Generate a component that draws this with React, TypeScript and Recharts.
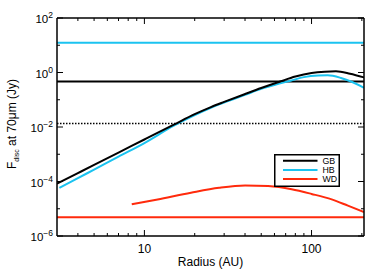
import React from 'react';
import { LineChart, Line, XAxis, YAxis, Legend } from 'recharts';

const FONT = '"Liberation Sans", Arial, Helvetica, sans-serif';

// Radius grid (AU) and fluxes (Jy)
const radiusGB = [3, 4, 5, 7, 10, 15, 20, 25, 30, 40, 50, 65, 80, 100, 120, 140, 170, 206];
const fluxGB = [8.3e-5, 2.03e-4, 4.06e-4, 1.15e-3, 3.48e-3, 0.0122, 0.0295, 0.0537, 0.0832, 0.162, 0.269, 0.468, 0.708, 0.955, 1.07, 1.11, 0.9, 0.66];

const radiusHB = [3.1, 4, 5, 7, 10, 15, 20, 25, 30, 40, 50, 65, 75, 90, 110, 125, 150, 175, 206];
const fluxHB = [5.8e-5, 1.33e-4, 2.73e-4, 8.15e-4, 2.58e-3, 0.0112, 0.0275, 0.051, 0.079, 0.151, 0.251, 0.398, 0.5, 0.676, 0.776, 0.79, 0.63, 0.447, 0.275];

const radiusWD = [8.4, 12, 19, 28, 40, 55, 76, 100, 132, 165, 206];
const fluxWD = [1.45e-5, 2.2e-5, 3.9e-5, 5.9e-5, 7.2e-5, 6.8e-5, 5.2e-5, 3.5e-5, 2.2e-5, 1.3e-5, 7.6e-6];

// Flat (radius-independent) levels
const radiusEdges = [3, 206];
const levelGB = 0.47;
const levelGBDotted = 0.0135;
const levelHB = 12.3;
const levelWD = 4.9e-6;

const xTicks = [4, 5, 6, 7, 8, 9, 10, 20, 30, 40, 50, 60, 70, 80, 90, 100, 200];
const yTicks = [1e-6, 1e-5, 1e-4, 1e-3, 1e-2, 1e-1, 1, 10, 100];

const COLORS = { GB: '#000000', HB: '#1BC3F0', WD: '#FF2A0C' };
const legendItems = [
  { name: 'GB', color: COLORS.GB },
  { name: 'HB', color: COLORS.HB },
  { name: 'WD', color: COLORS.WD },
];

const toSeries = (rs: number[], fs: number[]) => rs.map((r, i) => ({ r, f: fs[i] }));
const flat = (v: number) => radiusEdges.map((r) => ({ r, f: v }));

const isDecade = (v: number) => {
  const e = Math.log10(v);
  return Math.abs(e - Math.round(e)) < 1e-6;
};

const BottomTick = (props: any) => {
  const { x, y, payload } = props;
  const v = payload.value;
  const major = isDecade(v);
  return (
    <g>
      <line x1={x} x2={x} y1={y} y2={y - (major ? 6 : 3)} stroke="#000" strokeWidth={1} />
      {major && (
        <text x={x} y={y + 17} textAnchor="middle" fontSize={12} fontFamily={FONT} fill="#000">
          {String(Math.round(v))}
        </text>
      )}
    </g>
  );
};

const TopTick = (props: any) => {
  const { x, y, payload } = props;
  const major = isDecade(payload.value);
  return <line x1={x} x2={x} y1={y} y2={y + (major ? 6 : 3)} stroke="#000" strokeWidth={1} />;
};

const LeftTick = (props: any) => {
  const { x, y, payload } = props;
  const e = Math.round(Math.log10(payload.value));
  const major = e % 2 === 0;
  const exp = e < 0 ? '\u2212' + String(-e) : String(e);
  return (
    <g>
      <line x1={x} x2={x + (major ? 6 : 3)} y1={y} y2={y} stroke="#000" strokeWidth={1} />
      {major && (
        <text x={x - 4} y={y + 5} textAnchor="end" fontSize={11.5} fontFamily={FONT} fill="#000">
          10
          <tspan dy={-5} fontSize={8.5}>{exp}</tspan>
        </text>
      )}
    </g>
  );
};

const RightTick = (props: any) => {
  const { x, y, payload } = props;
  const e = Math.round(Math.log10(payload.value));
  const major = e % 2 === 0;
  return <line x1={x} x2={x - (major ? 6 : 3)} y1={y} y2={y} stroke="#000" strokeWidth={1} />;
};

const LegendBox = () => (
  <svg width={66} height={33} style={{ display: 'block' }}>
    <rect x={0.75} y={0.75} width={64.5} height={31.5} fill="#fff" stroke="#000" strokeWidth={1.5} />
    {legendItems.map((it, i) => (
      <g key={it.name}>
        <line x1={9} x2={43.5} y1={6.7 + i * 9.2} y2={6.7 + i * 9.2} stroke={it.color} strokeWidth={2} />
        <text x={48.5} y={9.9 + i * 9.2} fontSize={8.8} fontFamily={FONT} fill="#000">
          {it.name}
        </text>
      </g>
    ))}
  </svg>
);

export default function App() {
  return (
    <div style={{ position: 'absolute', left: 0, top: 0 }}>
      <LineChart width={382} height={273} margin={{ top: 17, right: 17, bottom: 36, left: 56 }}>
        <XAxis
          dataKey="r"
          type="number"
          scale="log"
          domain={[3, 206]}
          allowDataOverflow
          ticks={xTicks}
          interval={0}
          tickSize={0}
          tickMargin={0}
          tickLine={false}
          height={1}
          axisLine={{ stroke: '#000', strokeWidth: 1.5 }}
          tick={<BottomTick />}
          label={() => (
            <text x={210.5} y={266} textAnchor="middle" fontSize={12} fontFamily={FONT} fill="#000">
              Radius (AU)
            </text>
          )}
        />
        <XAxis
          xAxisId="top"
          orientation="top"
          dataKey="r"
          type="number"
          scale="log"
          domain={[3, 206]}
          allowDataOverflow
          ticks={xTicks}
          interval={0}
          tickSize={0}
          tickMargin={0}
          tickLine={false}
          height={1}
          axisLine={{ stroke: '#000', strokeWidth: 1.5 }}
          tick={<TopTick />}
        />
        <YAxis
          type="number"
          scale="log"
          domain={[1e-6, 100]}
          allowDataOverflow
          ticks={yTicks}
          interval={0}
          tickSize={0}
          tickMargin={0}
          tickLine={false}
          width={1}
          axisLine={{ stroke: '#000', strokeWidth: 1.5 }}
          tick={<LeftTick />}
          label={() => (
            <text
              x={16}
              y={124}
              transform="rotate(-90, 16, 124)"
              textAnchor="middle"
              fontSize={12}
              fontFamily={FONT}
              fill="#000"
            >
              F
              <tspan dy={2.5} fontSize={7}>disc</tspan>
              <tspan dy={-2.5}>{' at 70\u03BCm (Jy)'}</tspan>
            </text>
          )}
        />
        <YAxis
          yAxisId="right"
          orientation="right"
          type="number"
          scale="log"
          domain={[1e-6, 100]}
          allowDataOverflow
          ticks={yTicks}
          interval={0}
          tickSize={0}
          tickMargin={0}
          tickLine={false}
          width={1}
          axisLine={{ stroke: '#000', strokeWidth: 1.5 }}
          tick={<RightTick />}
        />
        <Line data={flat(levelHB)} dataKey="f" stroke={COLORS.HB} strokeWidth={2} dot={false} isAnimationActive={false} />
        <Line data={flat(levelGB)} dataKey="f" stroke={COLORS.GB} strokeWidth={2} dot={false} isAnimationActive={false} />
        <Line data={flat(levelGBDotted)} dataKey="f" stroke={COLORS.GB} strokeWidth={1.5} strokeDasharray="1.5 1.5" dot={false} isAnimationActive={false} />
        <Line data={flat(levelWD)} dataKey="f" stroke={COLORS.WD} strokeWidth={2} dot={false} isAnimationActive={false} />
        <Line data={toSeries(radiusWD, fluxWD)} dataKey="f" type="monotone" stroke={COLORS.WD} strokeWidth={2} dot={false} isAnimationActive={false} />
        <Line data={toSeries(radiusHB, fluxHB)} dataKey="f" type="monotone" stroke={COLORS.HB} strokeWidth={2} dot={false} isAnimationActive={false} />
        <Line data={toSeries(radiusGB, fluxGB)} dataKey="f" type="monotone" stroke={COLORS.GB} strokeWidth={2} dot={false} isAnimationActive={false} />
        <Legend
          layout="horizontal"
          verticalAlign="middle"
          align="center"
          wrapperStyle={{ left: 274, top: 154, width: 66, height: 33 }}
          content={() => <LegendBox />}
        />
      </LineChart>
    </div>
  );
}
